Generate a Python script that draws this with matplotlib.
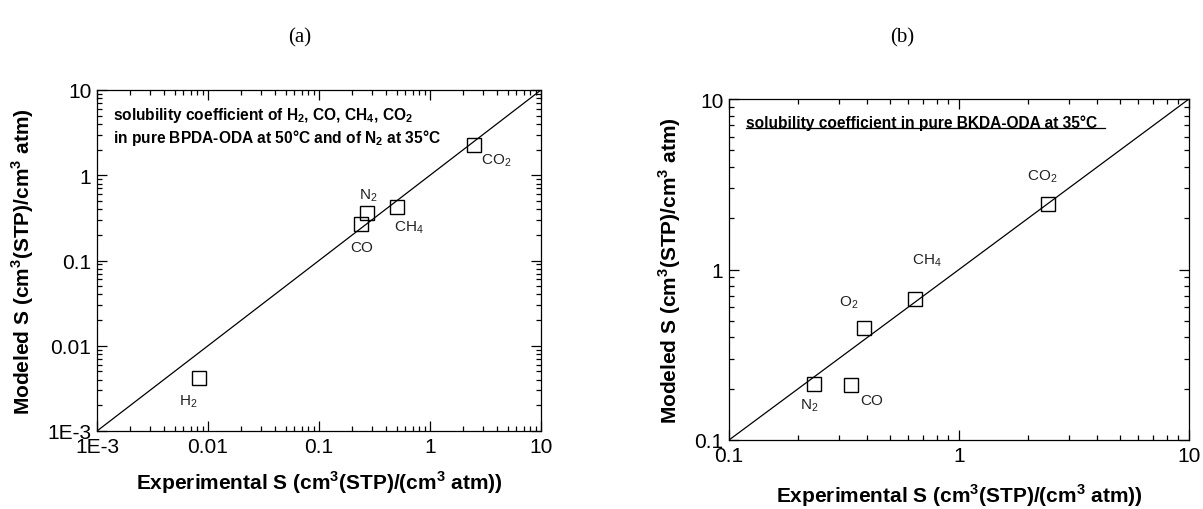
import matplotlib
matplotlib.use("Agg")
import matplotlib.pyplot as plt
from matplotlib import font_manager
from matplotlib.ticker import FixedLocator, FixedFormatter, LogLocator, NullFormatter

plt.rcParams['font.family'] = ['Liberation Sans', 'DejaVu Sans']
plt.rcParams['mathtext.fontset'] = 'custom'
plt.rcParams['mathtext.rm'] = 'Liberation Sans'
plt.rcParams['mathtext.bf'] = 'Liberation Sans:bold'

# (a) BPDA-ODA
gas_a = ["H$_2$", "CO", "N$_2$", "CH$_4$", "CO$_2$"]
exp_a = [0.0083, 0.239, 0.272, 0.507, 2.48]
mod_a = [0.0042, 0.268, 0.361, 0.421, 2.24]
lab_x_a = [0.0067, 0.240, 0.279, 0.644, 3.94]
lab_y_a = [0.00228, 0.143, 0.594, 0.252, 1.53]
ticks_a = [1e-3, 1e-2, 1e-1, 1, 10]
ticklabels_a = ["1E-3", "0.01", "0.1", "1", "10"]

# (b) BKDA-ODA
gas_b = ["N$_2$", "CO", "O$_2$", "CH$_4$", "CO$_2$"]
exp_b = [0.234, 0.339, 0.387, 0.643, 2.43]
mod_b = [0.213, 0.210, 0.454, 0.671, 2.42]
lab_x_b = [0.223, 0.419, 0.332, 0.724, 2.29]
lab_y_b = [0.161, 0.172, 0.652, 1.15, 3.54]
ticks_b = [0.1, 1, 10]
ticklabels_b = ["0.1", "1", "10"]

# narrow bold font if one is installed, else plain Liberation Sans a bit smaller
names = {f.name for f in font_manager.fontManager.ttflist}
narrow = None
for cand in ['Liberation Sans Narrow', 'Arial Narrow', 'DejaVu Sans Condensed']:
    if cand in names:
        narrow = cand
        break
if narrow:
    lab_font = [narrow, 'Liberation Sans']
    lab_size, note_size = 17, 12.5
else:
    lab_font = ['Liberation Sans']
    lab_size, note_size = 15, 11.2

W, H = 1203, 510
fig = plt.figure(figsize=(W / 100, H / 100), dpi=100)
axa = fig.add_axes([97 / W, (H - 432) / H, 444 / W, 341 / H])
axb = fig.add_axes([729 / W, (H - 441) / H, 460 / W, 341 / H])

xlab = r"Experimental S (cm$^\mathbf{3}$(STP)/(cm$^\mathbf{3}$ atm))"
ylab = r"Modeled S (cm$^\mathbf{3}$(STP)/cm$^\mathbf{3}$ atm)"


def setup(ax, ticks, ticklabels, ex, mo, gas, lx, ly, xpad):
    lo, hi = ticks[0], ticks[-1]
    ax.plot([lo, hi], [lo, hi], color='black', lw=0.9)
    ax.plot(ex, mo, 's', mfc='none', mec='black', mew=1.0, ms=10, ls='none')
    for g, x, y in zip(gas, lx, ly):
        ax.text(x, y, g, ha='center', va='center', fontsize=11, color='#222222')
    ax.set_xscale('log')
    ax.set_yscale('log')
    ax.set_xlim(lo, hi)
    ax.set_ylim(lo, hi)
    for axis in (ax.xaxis, ax.yaxis):
        axis.set_major_locator(FixedLocator(ticks))
        axis.set_major_formatter(FixedFormatter(ticklabels))
        axis.set_minor_locator(LogLocator(base=10, subs=range(2, 10), numticks=20))
        axis.set_minor_formatter(NullFormatter())
    ax.tick_params(which='both', direction='in', top=True, right=True, width=0.9)
    ax.tick_params(which='major', length=7, labelsize=15, pad=4)
    ax.tick_params(which='minor', length=3.5)
    for s in ax.spines.values():
        s.set_linewidth(0.9)
    ax.set_xlabel(xlab, fontsize=lab_size, fontweight='bold', family=lab_font, labelpad=xpad)
    ax.set_ylabel(ylab, fontsize=lab_size, fontweight='bold', family=lab_font, labelpad=8)


setup(axa, ticks_a, ticklabels_a, exp_a, mod_a, gas_a, lab_x_a, lab_y_a, 9)
setup(axb, ticks_b, ticklabels_b, exp_b, mod_b, gas_b, lab_x_b, lab_y_b, 12)

axa.text(0.037, 0.928, r"solubility coefficient of H$_\mathbf{2}$, CO, CH$_\mathbf{4}$, CO$_\mathbf{2}$",
         transform=axa.transAxes, fontsize=note_size, fontweight='bold', family=lab_font, va='center')
axa.text(0.037, 0.862, r"in pure BPDA-ODA at 50°C and of N$_\mathbf{2}$ at 35°C",
         transform=axa.transAxes, fontsize=note_size, fontweight='bold', family=lab_font, va='center')

axb.text(0.036, 0.933, "solubility coefficient in pure BKDA-ODA at 35°C",
         transform=axb.transAxes, fontsize=note_size, fontweight='bold', family=lab_font, va='center')
axb.plot([0.036, 0.817], [0.914, 0.914], transform=axb.transAxes, color='black', lw=0.9)

fig.text(300 / W, 1 - 38 / H, "(a)", ha='center', va='center', fontsize=15, family='Liberation Serif')
fig.text(902 / W, 1 - 38 / H, "(b)", ha='center', va='center', fontsize=15, family='Liberation Serif')

fig.savefig("out.png", dpi=100)
